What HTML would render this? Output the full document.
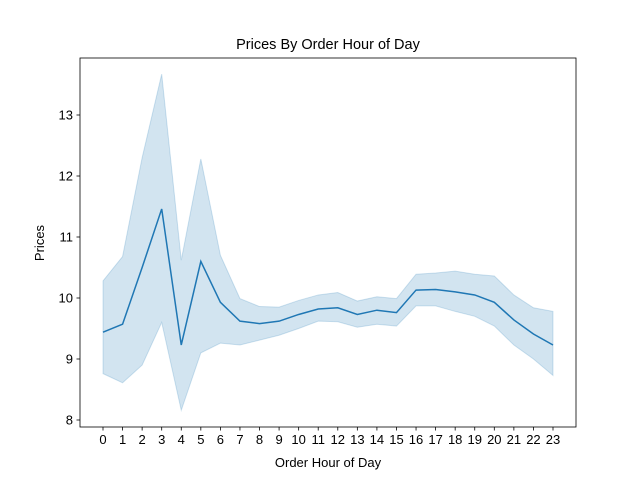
<!DOCTYPE html>
<html><head><meta charset="utf-8"><style>
body{margin:0;background:#fff;}
svg{display:block;font-family:"Liberation Sans","DejaVu Sans",sans-serif;}
</style></head><body>
<svg id="chart" width="640" height="480">
<rect width="640" height="480" fill="#fff"/>
<text x="328" y="49" font-size="14.5" text-anchor="middle">Prices By Order Hour of Day</text>
<g id="plot"></g>
<rect x="80" y="58" width="496" height="369" fill="none" stroke="#000" stroke-width="0.8"/>
<text x="328" y="467" font-size="13" text-anchor="middle">Order Hour of Day</text>
<text x="44" y="243" font-size="13" text-anchor="middle" transform="rotate(-90 44 243)">Prices</text>
</svg>
<script>
const hours=[0,1,2,3,4,5,6,7,8,9,10,11,12,13,14,15,16,17,18,19,20,21,22,23];
const meanPrice=[9.44,9.57,10.5,11.46,9.23,10.6,9.93,9.62,9.58,9.62,9.73,9.82,9.84,9.73,9.8,9.76,10.13,10.14,10.1,10.05,9.93,9.64,9.41,9.23];
const upperCI=[10.28,10.68,12.3,13.67,10.62,12.28,10.7,9.99,9.86,9.85,9.96,10.05,10.09,9.95,10.02,9.99,10.39,10.41,10.44,10.39,10.36,10.05,9.84,9.78];
const lowerCI=[8.76,8.61,8.9,9.6,8.16,9.1,9.26,9.23,9.31,9.39,9.5,9.62,9.61,9.52,9.57,9.54,9.87,9.87,9.78,9.7,9.54,9.23,9.0,8.73];
const yTicks=[8,9,10,11,12,13];
const NS="http://www.w3.org/2000/svg";
const xs=h=>103+h*(450/23);
const ys=v=>420-(v-8)*61;
const g=document.getElementById('plot');
function mk(t,a){const e=document.createElementNS(NS,t);for(const k in a)e.setAttribute(k,a[k]);g.appendChild(e);return e;}
let d=hours.map((h,i)=>(i?'L':'M')+xs(h)+','+ys(upperCI[i])).join('');
for(let i=hours.length-1;i>=0;i--)d+='L'+xs(hours[i])+','+ys(lowerCI[i]);
const band=mk('path',{d:d+'Z',fill:'#1f77b4','fill-opacity':0.2,stroke:'#1f77b4','stroke-opacity':0.2});


const line=mk('path',{d:hours.map((h,i)=>(i?'L':'M')+xs(h)+','+ys(meanPrice[i])).join(''),fill:'none',stroke:'#1f77b4','stroke-width':1.5});


hours.forEach(h=>{
 const t=mk('line',{x1:xs(h),x2:xs(h),y1:427,y2:430.5,stroke:'#000','stroke-width':0.8});
 
 
 const l=mk('text',{x:xs(h),y:444,'font-size':13,'text-anchor':'middle'});l.textContent=h;
 
 
});
yTicks.forEach(v=>{
 const t=mk('line',{x1:76.5,x2:80,y1:ys(v),y2:ys(v),stroke:'#000','stroke-width':0.8});
 
 
 const l=mk('text',{x:73,y:ys(v)+4.5,'font-size':13,'text-anchor':'end'});l.textContent=v;
 
 
});
</script>
</body></html>
